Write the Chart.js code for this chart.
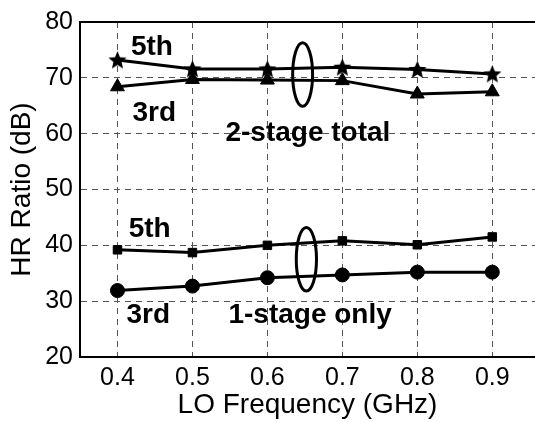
<!DOCTYPE html>
<html>
<head>
<meta charset="utf-8">
<script src="https://cdn.jsdelivr.net/npm/chart.js@4"></script>
<style>
  html, body { margin: 0; padding: 0; background: #fff; overflow: hidden; }
</style>
</head>
<body>
<canvas id="hrChart" width="535" height="422"></canvas>
<script>
// data
const freqs = [0.4, 0.5, 0.6, 0.7, 0.8, 0.9];
const xTicks = [0.4, 0.5, 0.6, 0.7, 0.8, 0.9];
const yTicks = [20, 30, 40, 50, 60, 70, 80];

const twoStage5th = [73.2, 71.6, 71.6, 71.9, 71.5, 70.7];
const twoStage3rd = [68.4, 69.7, 69.6, 69.5, 67.1, 67.5];
const oneStage5th = [39.2, 38.7, 40.0, 40.8, 40.1, 41.5];
const oneStage3rd = [31.9, 32.7, 34.2, 34.7, 35.2, 35.2];

// text notes (data coordinates)
const notes = [
  { text: '5th', x: 0.446, y: 75.4 },
  { text: '3rd', x: 0.449, y: 63.6 },
  { text: '2-stage total', x: 0.654, y: 60.0 },
  { text: '5th', x: 0.443, y: 42.9 },
  { text: '3rd', x: 0.441, y: 27.4 },
  { text: '1-stage only', x: 0.657, y: 27.4 }
];

// grouping ellipses (data coordinates)
const ellipses = [
  { x: 0.647, y: 70.6, rx: 0.0133, ry: 5.7 },
  { x: 0.652, y: 37.5, rx: 0.0135, ry: 5.7 }
];

// filled star marker
function makeStar(size) {
  const c = document.createElement('canvas');
  c.width = size;
  c.height = size;
  const g = c.getContext('2d');
  const cx = size / 2, cy = size / 2 + 0.8;
  const outer = size / 2, inner = outer * 0.45;
  g.beginPath();
  for (let i = 0; i < 10; i++) {
    const r = i % 2 === 0 ? outer : inner;
    const a = -Math.PI / 2 + i * Math.PI / 5;
    const px = cx + r * Math.cos(a), py = cy + r * Math.sin(a);
    if (i === 0) g.moveTo(px, py); else g.lineTo(px, py);
  }
  g.closePath();
  g.fillStyle = '#000';
  g.fill();
  return c;
}

const toPoints = vals => vals.map((v, i) => ({ x: freqs[i], y: v }));

function series(vals, style, radius) {
  return {
    data: toPoints(vals),
    borderColor: '#000',
    backgroundColor: '#000',
    borderWidth: 3,
    pointStyle: style,
    pointRadius: radius,
    pointBorderWidth: 1,
    pointBorderColor: '#000',
    pointBackgroundColor: '#000',
    tension: 0
  };
}

const extras = {
  id: 'extras',
  afterDatasetsDraw(chart) {
    const { ctx, chartArea, scales } = chart;
    const xs = scales.x, ys = scales.y;
    ctx.save();
    // top frame line
    ctx.strokeStyle = '#000';
    ctx.lineWidth = 2;
    ctx.beginPath();
    ctx.moveTo(chartArea.left, chartArea.top);
    ctx.lineTo(chart.width, chartArea.top);
    ctx.stroke();

    // ellipses
    ctx.lineWidth = 3;
    ellipses.forEach(e => {
      const cx = xs.getPixelForValue(e.x);
      const cy = ys.getPixelForValue(e.y);
      const rx = Math.abs(xs.getPixelForValue(e.x + e.rx) - cx);
      const ry = Math.abs(ys.getPixelForValue(e.y + e.ry) - cy);
      ctx.beginPath();
      ctx.ellipse(cx, cy, rx, ry, 0, 0, Math.PI * 2);
      ctx.stroke();
    });

    // labels
    ctx.font = "bold 28px 'Liberation Sans', Arial, sans-serif";
    ctx.fillStyle = '#000';
    ctx.textAlign = 'center';
    ctx.textBaseline = 'middle';
    notes.forEach(n => {
      ctx.fillText(n.text, xs.getPixelForValue(n.x), ys.getPixelForValue(n.y));
    });
    ctx.restore();
  }
};

const tickFont = { family: "'Liberation Sans', Arial, sans-serif", size: 25 };
const titleFont = { family: "'Liberation Sans', Arial, sans-serif", size: 28 };

new Chart(document.getElementById('hrChart'), {
  type: 'line',
  data: {
    datasets: [
      series(twoStage5th, makeStar(19), 9),
      series(twoStage3rd, 'triangle', 8),
      series(oneStage5th, 'rect', 6),
      series(oneStage3rd, 'circle', 7)
    ]
  },
  options: {
    responsive: false,
    animation: false,
    layout: { autoPadding: false, padding: { top: 19, right: 0, bottom: 0, left: 0 } },
    plugins: { legend: { display: false }, tooltip: { enabled: false } },
    scales: {
      x: {
        type: 'linear',
        min: 0.35,
        max: 0.957,
        afterBuildTicks: s => { s.ticks = xTicks.map(v => ({ value: v })); },
        afterFit: s => { s.height = 65; },
        ticks: {
          color: '#000',
          font: tickFont,
          padding: 6,
          maxRotation: 0,
          callback: v => v.toFixed(1)
        },
        grid: { color: '#555', lineWidth: 1, drawTicks: false },
        border: { color: '#000', width: 2, dash: [6, 5] },
        title: {
          display: true,
          text: 'LO Frequency (GHz)',
          color: '#000',
          font: titleFont,
          padding: { top: 0, bottom: 0 }
        }
      },
      y: {
        min: 20,
        max: 80,
        afterBuildTicks: s => { s.ticks = yTicks.map(v => ({ value: v })); },
        afterFit: s => { s.width = 80; },
        ticks: { color: '#000', font: tickFont, padding: 7 },
        grid: { color: '#555', lineWidth: 1, drawTicks: false },
        border: { color: '#000', width: 2, dash: [6, 5] },
        title: {
          display: true,
          text: 'HR Ratio (dB)',
          color: '#000',
          font: titleFont,
          padding: { top: 5, bottom: 0 }
        }
      }
    }
  },
  plugins: [extras]
});
</script>
</body>
</html>
